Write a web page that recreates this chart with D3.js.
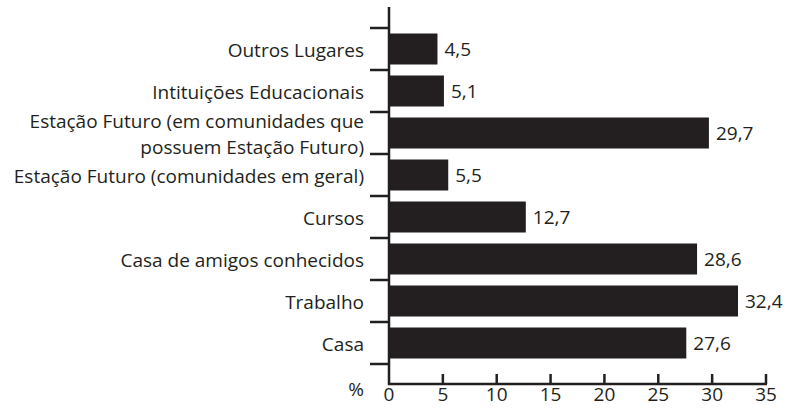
<!DOCTYPE html>
<html>
<head>
<meta charset="utf-8">
<script src="https://cdn.jsdelivr.net/npm/d3@7"></script>
<style>
  html, body { margin: 0; padding: 0; background: #fff; }
  svg text { font-family: "Open Sans", sans-serif; fill: #231f20; }
</style>
</head>
<body>
<svg id="chart" width="788" height="408"></svg>
<script>
// categories top to bottom, "\n" marks a line break in the label
const categories = [
  "Outros Lugares",
  "Intituições Educacionais",
  "Estação Futuro (em comunidades que\npossuem Estação Futuro)",
  "Estação Futuro (comunidades em geral)",
  "Cursos",
  "Casa de amigos conhecidos",
  "Trabalho",
  "Casa"
];
const values = [4.5, 5.1, 29.7, 5.5, 12.7, 28.6, 32.4, 27.6];
const xTicks = [0, 5, 10, 15, 20, 25, 30, 35];
const unitLabel = "%";

const ink = "#231f20";
const fontSize = 19;
const svg = d3.select("#chart");

const ptBR = d3.formatLocale({decimal: ",", thousands: ".", grouping: [3], currency: ["R$", ""]});
const fmt = ptBR.format(".1f");

const x = d3.scaleLinear().domain([0, 35]).range([389, 766]);
const y = d3.scaleBand().domain(categories).range([28, 364])
  .paddingInner(0.262).paddingOuter(0.131);

const axisY = x(0);
const baseY = 384;
const halfGap = y.step() * y.paddingInner() / 2;

// bars
svg.append("g")
  .selectAll("rect")
  .data(categories)
  .join("rect")
    .attr("x", axisY)
    .attr("y", d => y(d))
    .attr("width", (d, i) => x(values[i]) - x(0))
    .attr("height", y.bandwidth())
    .attr("fill", ink);

// value labels
svg.append("g")
    .attr("font-size", fontSize)
  .selectAll("text")
  .data(categories)
  .join("text")
    .attr("x", (d, i) => x(values[i]) + 7)
    .attr("y", d => y(d) + y.bandwidth() / 2 + 7)
    .text((d, i) => fmt(values[i]));

// category labels
const lineGap = 26;
svg.append("g")
    .attr("font-size", fontSize)
    .attr("text-anchor", "end")
  .selectAll("text")
  .data(categories)
  .join("text")
    .attr("x", 364)
    .attr("y", d => {
      const n = d.split("\n").length;
      return y(d) + y.bandwidth() / 2 + 8 - (n - 1) * lineGap / 2;
    })
    .each(function(d) {
      const t = d3.select(this);
      d.split("\n").forEach((line, k) => {
        t.append("tspan")
          .attr("x", 364)
          .attr("dy", k === 0 ? 0 : lineGap)
          .text(line);
      });
    });

// left ticks at band boundaries
const bounds = categories.map(d => y(d) - halfGap);
bounds.push(y(categories[categories.length - 1]) + y.bandwidth() + halfGap);

svg.append("g")
  .selectAll("line")
  .data(bounds)
  .join("line")
    .attr("x1", 370).attr("x2", axisY)
    .attr("y1", d => d).attr("y2", d => d)
    .attr("stroke", ink)
    .attr("stroke-width", 2.5);

// y axis line
svg.append("line")
  .attr("x1", axisY).attr("x2", axisY)
  .attr("y1", 7).attr("y2", baseY + 1)
  .attr("stroke", ink).attr("stroke-width", 2.5);

// x axis
svg.append("line")
  .attr("x1", axisY - 1).attr("x2", x(35) + 1)
  .attr("y1", baseY).attr("y2", baseY)
  .attr("stroke", ink).attr("stroke-width", 2.5);

svg.append("g")
  .selectAll("line")
  .data(xTicks.filter(t => t > 0))
  .join("line")
    .attr("x1", d => x(d)).attr("x2", d => x(d))
    .attr("y1", baseY - 10).attr("y2", baseY)
    .attr("stroke", ink).attr("stroke-width", 2.5);

svg.append("g")
    .attr("font-size", fontSize)
    .attr("text-anchor", "middle")
  .selectAll("text")
  .data(xTicks)
  .join("text")
    .attr("x", d => x(d))
    .attr("y", 401)
    .text(d => d);

svg.append("text")
  .attr("x", 364)
  .attr("y", 396)
  .attr("text-anchor", "end")
  .attr("font-size", fontSize)
  .text(unitLabel);
</script>
</body>
</html>
